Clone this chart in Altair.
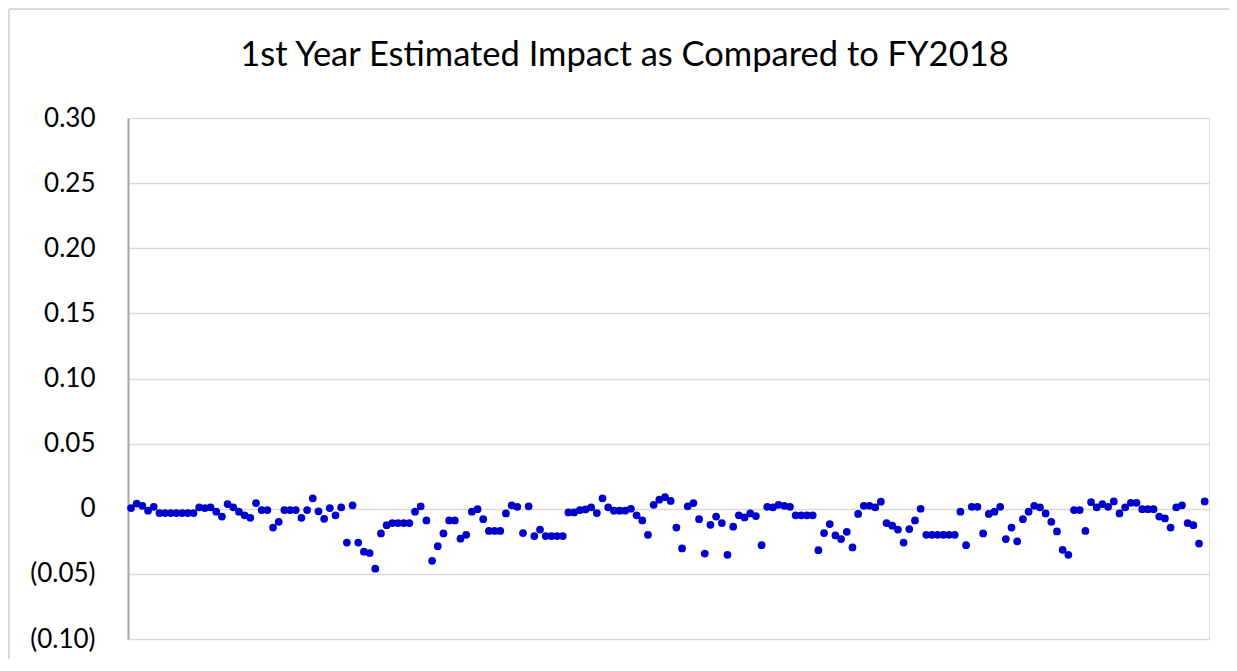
import altair as alt
import pandas as pd

title_text = "1st Year Estimated Impact as Compared to FY2018"

values = [
    0.0005, 0.004, 0.0023, -0.0015, 0.0015,
    -0.0033, -0.0033, -0.0033, -0.0033, -0.0033, -0.0033, -0.0033,
    0.001, 0.0005, 0.001, -0.0023, -0.006,
    0.0036, 0.001, -0.0023, -0.005, -0.007,
    0.0044, -0.001, -0.001, -0.0144, -0.010,
    -0.001, -0.001, -0.001, -0.007, -0.001,
    0.008, -0.002, -0.0077, 0.0005, -0.005,
    0.001, -0.026, 0.0026, -0.026, -0.033,
    -0.034, -0.046, -0.019, -0.0126, -0.011,
    -0.011, -0.011, -0.011, -0.0023, 0.0018,
    -0.009, -0.040, -0.0287, -0.019, -0.009,
    -0.009, -0.023, -0.020, -0.0023, -0.0003,
    -0.008, -0.017, -0.017, -0.017, -0.0036,
    0.0026, 0.0015, -0.0187, 0.0018, -0.021,
    -0.016, -0.021, -0.021, -0.021, -0.021,
    -0.0028, -0.0028, -0.001, -0.0005, 0.001,
    -0.0033, 0.008, 0.001, -0.0015, -0.0015,
    -0.0015, 0.0, -0.005, -0.009, -0.020,
    0.003, 0.007, 0.009, 0.006, -0.0144,
    -0.0305, 0.0018, 0.0044, -0.008, -0.0344,
    -0.0123, -0.006, -0.011, -0.0354, -0.0138,
    -0.005, -0.0067, -0.0036, -0.0056, -0.028,
    0.0015, 0.001, 0.003, 0.0023, 0.0015,
    -0.005, -0.005, -0.005, -0.005, -0.0318,
    -0.0187, -0.0118, -0.0205, -0.0233, -0.0177,
    -0.0297, -0.004, 0.0023, 0.0023, 0.001,
    0.0054, -0.011, -0.013, -0.016, -0.026,
    -0.0156, -0.009, 0.0, -0.020, -0.020,
    -0.020, -0.020, -0.020, -0.020, -0.0023,
    -0.028, 0.0015, 0.0015, -0.019, -0.004,
    -0.0023, 0.0015, -0.0233, -0.0144, -0.025,
    -0.008, -0.0023, 0.0023, 0.001, -0.0036,
    -0.010, -0.0174, -0.0315, -0.0354, -0.001,
    -0.001, -0.017, 0.005, 0.001, 0.0036,
    0.0015, 0.0056, -0.0036, 0.001, 0.0046,
    0.0046, -0.0003, -0.0003, -0.0003, -0.006,
    -0.0074, -0.0144, 0.001, 0.0026, -0.011,
    -0.0126, -0.0267, 0.0056,
]
index = list(range(1, len(values) + 1))
y_ticks = [-0.10, -0.05, 0.0, 0.05, 0.10, 0.15, 0.20, 0.25, 0.30]

df = pd.DataFrame({"idx": index, "impact": values})

W, H = 1081, 521
FONT = "Lato"

label_expr = ("datum.value == 0 ? '0' : (datum.value < 0 ? '(' + format(-datum.value, '.2f') + ')' "
              ": format(datum.value, '.2f'))")

points = alt.Chart(df).mark_circle(size=60, color="#0000cc", opacity=1).encode(
    x=alt.X("idx:Q", axis=None, scale=alt.Scale(domain=[0.47, 190.76], nice=False, zero=False)),
    y=alt.Y("impact:Q", title=None,
            scale=alt.Scale(domain=[-0.10, 0.30], nice=False, zero=False),
            axis=alt.Axis(values=y_ticks, labelExpr=label_expr, grid=True,
                          gridColor="#d9d9d9", gridWidth=1.5,
                          domain=True, domainColor="#a6a6a6", domainWidth=2,
                          ticks=False, tickSize=0, labelPadding=33,
                          labelFont=FONT, labelFontSize=26, labelColor="#000000")),
)

one = pd.DataFrame({"a": [0]})
border_top = alt.Chart(one).mark_rule(color="#d9d9d9", strokeWidth=2).encode(
    x=alt.value(-119), x2=alt.value(W + 20), y=alt.value(-109))
border_left = alt.Chart(one).mark_rule(color="#d9d9d9", strokeWidth=2).encode(
    x=alt.value(-119), y=alt.value(-109), y2=alt.value(H + 20))
title_mark = alt.Chart(one).mark_text(
    font=FONT, fontSize=34.5, fontWeight="normal", color="#000000",
    align="center", baseline="alphabetic").encode(
    x=alt.value(W / 2 - 44), y=alt.value(-52), text=alt.value(title_text))

chart = alt.layer(border_top, border_left, title_mark, points).properties(
    width=W, height=H,
    autosize=alt.AutoSizeParams(type="none"),
    padding={"left": 120, "top": 110, "right": 20, "bottom": 20},
).configure_view(stroke=None).configure(background="white")

chart.save("out.html", embed_options={"renderer": "svg", "actions": False})
